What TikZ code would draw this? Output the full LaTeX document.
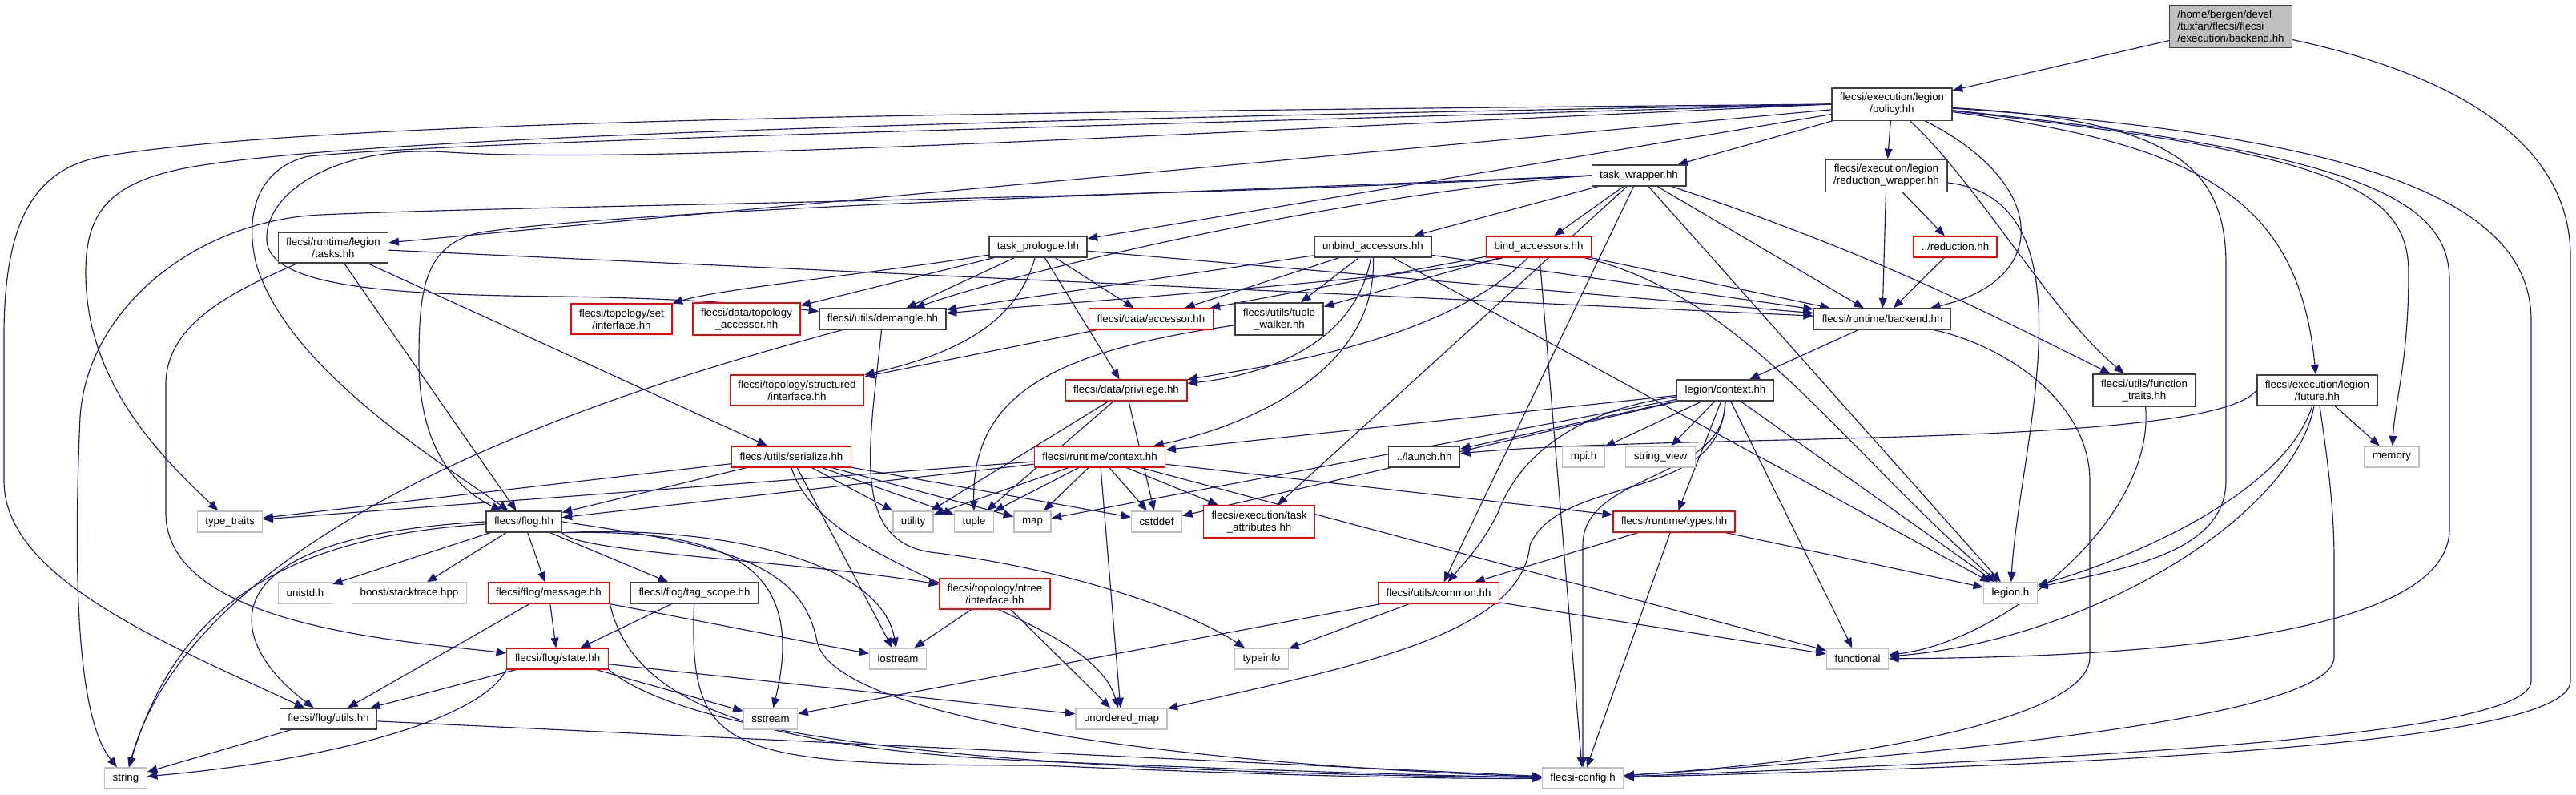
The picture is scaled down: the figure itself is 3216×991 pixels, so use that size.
\documentclass[tikz,border=0pt]{standalone}
\usepackage{fontspec}
\setmainfont{Liberation Sans}
\usetikzlibrary{arrows.meta, positioning}
\definecolor{edgeblue}{RGB}{25,25,112}
\definecolor{boxdark}{RGB}{64,64,64}
\definecolor{boxred}{RGB}{255,0,0}
\definecolor{boxgray}{RGB}{191,191,191}
\definecolor{rootfill}{RGB}{191,191,191}
\tikzset{
  hdr/.style={rectangle, draw=boxdark, fill=white, line width=1.4pt, align=center,
    font=\fontsize{13.3}{15}\selectfont, inner xsep=10pt, inner ysep=6.5pt, minimum height=26pt},
  redhdr/.style={hdr, draw=boxred},
  syshdr/.style={hdr, draw=boxgray},
  roothdr/.style={hdr, fill=rootfill, align=left},
  dep/.style={-{Triangle[length=12.5pt,width=10pt]}, line width=1.15pt, color=edgeblue}
}
\pgfdeclarelayer{bglayer}
\pgfdeclarelayer{edgelayer}
\pgfsetlayers{bglayer,edgelayer,main}

\begin{document}
\begin{tikzpicture}[x=1pt, y=-1pt]
  \useasboundingbox (0,0) rectangle (3216,991);
  \begin{pgfonlayer}{bglayer}
    \fill[white] (0,0) rectangle (3216,991);
  \end{pgfonlayer}

  % Nodes
  \node[roothdr] (root) at (2785,33) {/home/bergen/devel\\/tuxfan/flecsi/flecsi\\/execution/backend.hh};
  \node[hdr] (policy) at (2362,130) {flecsi/execution/legion\\/policy.hh};
  \node[hdr] (twrap) at (2046,219) {task\_wrapper.hh};
  \node[hdr] (redwrap) at (2355,219) {flecsi/execution/legion\\/reduction\_wrapper.hh};
  \node[hdr] (tasks) at (416,309) {flecsi/runtime/legion\\/tasks.hh};
  \node[hdr] (prolog) at (1296,308) {task\_prologue.hh};
  \node[hdr] (unbind) at (1714,308) {unbind\_accessors.hh};
  \node[redhdr] (bind) at (1921,308) {bind\_accessors.hh};
  \node[redhdr] (reduc) at (2441,308) {../reduction.hh};

  \node[redhdr] (setif) at (776,398) {flecsi/topology/set\\/interface.hh};
  \node[redhdr] (topacc) at (932,398) {flecsi/data/topology\\\_accessor.hh};
  \node[hdr] (demangle) at (1102,398) {flecsi/utils/demangle.hh};
  \node[redhdr] (accessor) at (1437,398) {flecsi/data/accessor.hh};
  \node[hdr] (tuplew) at (1597,398) {flecsi/utils/tuple\\\_walker.hh};
  \node[hdr] (rtbackend) at (2350,398) {flecsi/runtime/backend.hh};

  \node[redhdr] (structif) at (995,487) {flecsi/topology/structured\\/interface.hh};
  \node[redhdr] (privilege) at (1406,487) {flecsi/data/privilege.hh};
  \node[hdr] (lctx) at (2154,487) {legion/context.hh};
  \node[hdr] (ftraits) at (2677,487) {flecsi/utils/function\\\_traits.hh};
  \node[hdr] (future) at (2893,487) {flecsi/execution/legion\\/future.hh};

  \node[redhdr] (serialize) at (988,570) {flecsi/utils/serialize.hh};
  \node[redhdr] (rtctx) at (1373,570) {flecsi/runtime/context.hh};
  \node[hdr] (launch) at (1778,570) {../launch.hh};
  \node[syshdr] (mpi) at (1977,570) {mpi.h};
  \node[syshdr] (strview) at (2073,570) {string\_view};
  \node[syshdr] (memory) at (2986,570) {memory};

  \node[syshdr] (typetr) at (287,651) {type\_traits};
  \node[hdr] (flog) at (654,651) {flecsi/flog.hh};
  \node[syshdr] (utility) at (1140,651) {utility};
  \node[syshdr] (tuple) at (1216,651) {tuple};
  \node[syshdr] (map) at (1289,651) {map};
  \node[syshdr] (cstddef) at (1444,651) {cstddef};
  \node[redhdr] (taskattr) at (1572,651) {flecsi/execution/task\\\_attributes.hh};
  \node[redhdr] (types) at (2090,651) {flecsi/runtime/types.hh};

  \node[syshdr] (unistd) at (381,740) {unistd.h};
  \node[syshdr] (boost) at (511,740) {boost/stacktrace.hpp};
  \node[redhdr] (message) at (685,740) {flecsi/flog/message.hh};
  \node[hdr] (tagscope) at (867,740) {flecsi/flog/tag\_scope.hh};
  \node[redhdr] (ntree) at (1242,741) {flecsi/topology/ntree\\/interface.hh};
  \node[redhdr] (common) at (1796,740) {flecsi/utils/common.hh};
  \node[syshdr] (legionh) at (2510,740) {legion.h};

  \node[redhdr] (state) at (696,822) {flecsi/flog/state.hh};
  \node[syshdr] (iostream) at (1121,822) {iostream};
  \node[syshdr] (typeinfo) at (1575,822) {typeinfo};
  \node[syshdr] (functional) at (2319,822) {functional};

  \node[hdr] (flogutils) at (410,897) {flecsi/flog/utils.hh};
  \node[syshdr] (sstream) at (962,897) {sstream};
  \node[syshdr] (umap) at (1400,897) {unordered\_map};

  \node[syshdr] (string) at (157,971) {string};
  \node[syshdr] (config) at (1976,971) {flecsi-config.h};

  % Arrows
  \begin{pgfonlayer}{edgelayer}
  \draw[dep] (root) -- (policy);
  \draw[dep] (root) .. controls (3050,90) and (3209,170) .. (3209,320) -- (3209,850) .. controls (3209,930) and (2600,955) .. (config);

  \draw[dep] (policy) -- (twrap);
  \draw[dep] (policy) -- (redwrap);
  \draw[dep] (policy) -- (prolog);
  \draw[dep] (policy) -- (tasks);
  \draw[dep] (policy.west) .. controls (1400,170) and (800,205) .. (560,190) .. controls (420,180) and (330,240) .. (333,300) .. controls (336,360) and (500,368) .. (700,370) .. controls (850,372) and (950,380) .. (demangle);
  \draw[dep] (policy.west) .. controls (1300,160) and (600,175) .. (385,195) .. controls (320,210) and (305,270) .. (320,330) .. controls (360,460) and (540,570) .. (flog);
  \draw[dep] (policy.west) .. controls (1200,150) and (500,170) .. (260,205) .. controls (140,222) and (107,260) .. (107,340) .. controls (107,470) and (190,560) .. (typetr);
  \draw[dep] (policy.west) .. controls (1200,140) and (400,150) .. (130,195) .. controls (40,210) and (5,280) .. (5,420) -- (5,600) .. controls (5,720) and (200,800) .. (flogutils);
  \draw[dep] (policy) .. controls (2560,230) and (2560,350) .. (rtbackend);
  \draw[dep] (policy) .. controls (2470,230) and (2560,390) .. (ftraits);
  \draw[dep] (policy) .. controls (2750,180) and (2870,250) .. (future);
  \draw[dep] (policy) .. controls (2900,190) and (3007,230) .. (3007,340) .. controls (3007,450) and (2990,500) .. (memory);
  \draw[dep] (policy) .. controls (2700,150) and (2779,200) .. (2779,330) -- (2779,600) .. controls (2779,690) and (2650,710) .. (legionh);
  \draw[dep] (policy) .. controls (2950,190) and (3058,250) .. (3058,350) -- (3058,660) .. controls (3058,790) and (2700,820) .. (functional);
  \draw[dep] (policy) .. controls (2950,170) and (3160,250) .. (3160,400) -- (3160,850) .. controls (3160,925) and (2500,950) .. (config);

  \draw[dep] (twrap) -- (unbind);
  \draw[dep] (twrap) -- (bind);
  \draw[dep] (twrap) -- (rtbackend);
  \draw[dep] (twrap.west) .. controls (1700,240) and (1300,330) .. (demangle);
  \draw[dep] (twrap) -- (legionh);
  \draw[dep] (twrap) .. controls (2350,320) and (2500,400) .. (ftraits);
  \draw[dep] (twrap) -- (taskattr);
  \draw[dep] (twrap) -- (common);
  \draw[dep] (twrap.west) .. controls (1500,240) and (800,260) .. (600,290) .. controls (530,305) and (523,360) .. (523,450) .. controls (523,560) and (570,610) .. (flog);
  \draw[dep] (twrap.west) .. controls (1400,250) and (700,255) .. (400,268) .. controls (250,275) and (110,380) .. (100,520) .. controls (90,750) and (100,900) .. (string);

  \draw[dep] (redwrap) -- (reduc);
  \draw[dep] (redwrap) -- (rtbackend);
  \draw[dep] (redwrap) .. controls (2620,250) and (2520,560) .. (legionh);
  \draw[dep] (reduc) -- (rtbackend);

  \draw[dep] (tasks) -- (rtbackend);
  \draw[dep] (tasks) -- (flog);
  \draw[dep] (tasks) -- (serialize);
  \draw[dep] (tasks) .. controls (300,360) and (207,400) .. (207,480) -- (207,640) .. controls (207,780) and (500,800) .. (state);

  \draw[dep] (prolog) .. controls (1100,340) and (900,360) .. (setif);
  \draw[dep] (prolog) -- (topacc);
  \draw[dep] (prolog) -- (demangle);
  \draw[dep] (prolog) -- (accessor);
  \draw[dep] (prolog) -- (privilege);
  \draw[dep] (prolog) .. controls (1270,400) and (1200,440) .. (structif);
  \draw[dep] (prolog) -- (rtbackend);

  \draw[dep] (unbind) -- (demangle);
  \draw[dep] (unbind) -- (accessor);
  \draw[dep] (unbind) -- (tuplew);
  \draw[dep] (unbind) .. controls (1690,440) and (1560,470) .. (privilege);
  \draw[dep] (unbind) .. controls (1720,480) and (1520,540) .. (rtctx);
  \draw[dep] (unbind) -- (rtbackend);
  \draw[dep] (unbind) -- (legionh);

  \draw[dep] (bind) .. controls (1800,345) and (1300,380) .. (demangle);
  \draw[dep] (bind) -- (accessor);
  \draw[dep] (bind) -- (tuplew);
  \draw[dep] (bind) .. controls (1800,430) and (1560,460) .. (privilege);
  \draw[dep] (bind) -- (rtbackend);
  \draw[dep] (bind) .. controls (2180,370) and (2300,560) .. (legionh);
  \draw[dep] (bind) -- (config);

  \draw[dep] (accessor) -- (structif);
  \draw[dep] (tuplew) .. controls (1300,440) and (1214,500) .. (tuple);
  \draw[dep] (privilege) -- (utility);
  \draw[dep] (privilege) -- (tuple);
  \draw[dep] (privilege) -- (cstddef);
  \draw[dep] (demangle) .. controls (800,480) and (250,640) .. (string);
  \draw[dep] (demangle) .. controls (1085,560) and (1060,680) .. (1170,690) .. controls (1330,710) and (1480,760) .. (typeinfo);

  \draw[dep] (serialize) -- (flog);
  \draw[dep] (serialize) -- (utility);
  \draw[dep] (serialize) -- (tuple);
  \draw[dep] (serialize) -- (map);
  \draw[dep] (serialize) -- (cstddef);
  \draw[dep] (serialize) -- (typetr);
  \draw[dep] (serialize) -- (iostream);
  \draw[dep] (serialize.south) .. controls (1030,720) and (1360,760) .. (umap);

  \draw[dep] (rtctx) -- (flog);
  \draw[dep] (rtctx) -- (typetr);
  \draw[dep] (rtctx) -- (utility);
  \draw[dep] (rtctx) -- (tuple);
  \draw[dep] (rtctx) -- (map);
  \draw[dep] (rtctx) -- (cstddef);
  \draw[dep] (rtctx) -- (umap);
  \draw[dep] (rtctx) -- (taskattr);
  \draw[dep] (rtctx) -- (types);
  \draw[dep] (rtctx) -- (functional);

  \draw[dep] (lctx) -- (rtctx);
  \draw[dep] (lctx) -- (map);
  \draw[dep] (lctx) -- (cstddef);
  \draw[dep] (lctx) -- (launch);
  \draw[dep] (lctx) -- (mpi);
  \draw[dep] (lctx) -- (strview);
  \draw[dep] (lctx) -- (types);
  \draw[dep] (lctx) .. controls (1980,510) and (1900,560) .. (1870,640) .. controls (1850,680) and (1830,700) .. (common);
  \draw[dep] (lctx) .. controls (2154,600) and (1976,590) .. (1976,680) -- (config);
  \draw[dep] (lctx) -- (functional);
  \draw[dep] (lctx) -- (legionh);
  \draw[dep] (lctx) .. controls (2150,630) and (1950,590) .. (1910,680) .. controls (1900,790) and (1700,830) .. (umap);

  \draw[dep] (rtbackend) -- (lctx);
  \draw[dep] (rtbackend) .. controls (2500,430) and (2609,500) .. (2609,600) -- (2609,820) .. controls (2609,900) and (2300,950) .. (config);

  \draw[dep] (types) -- (common);
  \draw[dep] (types) -- (config);
  \draw[dep] (types) -- (legionh);

  \draw[dep] (common) -- (sstream);
  \draw[dep] (common) -- (typeinfo);
  \draw[dep] (common) -- (functional);

  \draw[dep] (future.west) .. controls (2760,560) and (2100,540) .. (launch);
  \draw[dep] (future) -- (memory);
  \draw[dep] (future) .. controls (2860,650) and (2600,800) .. (functional);
  \draw[dep] (future) .. controls (2850,620) and (2650,700) .. (legionh);
  \draw[dep] (future) .. controls (2910,600) and (2914,650) .. (2914,700) -- (2914,820) .. controls (2914,905) and (2300,950) .. (config);
  \draw[dep] (ftraits) .. controls (2690,650) and (2500,800) .. (functional);

  \draw[dep] (flog) -- (unistd);
  \draw[dep] (flog) -- (boost);
  \draw[dep] (flog) -- (message);
  \draw[dep] (flog) -- (tagscope);
  \draw[dep] (flog.south east) .. controls (720,690) and (1000,700) .. (ntree);
  \draw[dep] (flog.west) .. controls (250,670) and (280,800) .. (flogutils);
  \draw[dep] (flog) .. controls (350,670) and (220,760) .. (string);
  \draw[dep] (flog.south east) .. controls (900,655) and (1100,700) .. (iostream);
  \draw[dep] (flog.south east) .. controls (900,660) and (1010,700) .. (sstream);
  \draw[dep] (flog.east) .. controls (900,680) and (1000,700) .. (1020,800) .. controls (1040,900) and (1500,955) .. (config);

  \draw[dep] (message) -- (flogutils);
  \draw[dep] (message) -- (state);
  \draw[dep] (message.south east) .. controls (850,770) and (1000,800) .. (iostream);
  \draw[dep] (message.south east) .. controls (790,880) and (950,935) .. (1300,950) .. controls (1600,962) and (1800,968) .. (config);

  \draw[dep] (tagscope) -- (state);
  \draw[dep] (tagscope) .. controls (860,940) and (900,955) .. (1300,955) .. controls (1600,968) and (1800,972) .. (config);

  \draw[dep] (state) -- (flogutils);
  \draw[dep] (state.south west) .. controls (600,900) and (400,950) .. (string);
  \draw[dep] (state) -- (sstream);
  \draw[dep] (state) -- (umap);
  \draw[dep] (state.south east) .. controls (900,950) and (1500,965) .. (config);

  \draw[dep] (flogutils) -- (string);
  \draw[dep] (flogutils) -- (config);

  \draw[dep] (ntree) -- (iostream);
  \draw[dep] (ntree) -- (umap);
  \end{pgfonlayer}

\end{tikzpicture}
\end{document}
